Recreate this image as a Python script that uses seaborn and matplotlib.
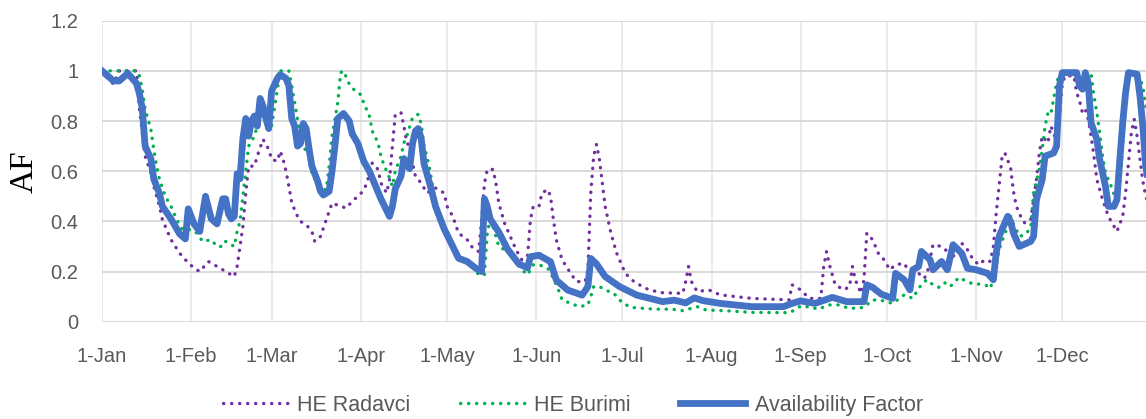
import pandas as pd
import numpy as np
import matplotlib
matplotlib.use("Agg")
import matplotlib.pyplot as plt
import matplotlib.dates as mdates
import seaborn as sns

# day of year (0 = 1-Jan) and values
af_days = [0, 2, 4, 6, 9, 12, 13, 14, 15, 17, 18, 20, 21, 24, 27, 29, 30, 32, 34, 36,
           38, 40, 42, 43, 44, 45, 46, 47, 48, 49, 50, 51, 52, 53, 54, 55, 56, 57, 58, 59,
           61, 62, 64, 65, 66, 67, 68, 69, 70, 71, 72, 73, 75, 76, 77, 79, 80, 81, 82, 84,
           86, 87, 89, 91, 93, 97, 100, 101, 102, 104, 105, 107, 108, 109, 110, 111, 112, 114, 116, 119,
           122, 124, 127, 130, 132, 133, 134, 135, 138, 141, 145, 148, 149, 152, 156, 158, 162, 167, 169, 170,
           172, 175, 180, 186, 195, 199, 203, 206, 209, 215, 226, 237, 240, 243, 248, 254, 259, 265, 266, 268,
           271, 275, 276, 279, 281, 282, 284, 285, 288, 289, 292, 294, 296, 299, 301, 304, 308, 310, 311, 312,
           315, 316, 317, 319, 323, 324, 325, 327, 328, 331, 332, 333, 334, 339, 340, 341, 342, 343, 344, 346,
           347, 349, 350, 352, 353, 354, 355, 356, 357, 360, 361, 362, 363, 364]
af_vals = [1.00, 0.98, 0.96, 0.96, 0.99, 0.95, 0.91, 0.85, 0.70, 0.65, 0.57, 0.51, 0.46, 0.41, 0.35, 0.33, 0.45, 0.39, 0.36, 0.50,
           0.41, 0.39, 0.49, 0.49, 0.43, 0.41, 0.42, 0.59, 0.57, 0.73, 0.81, 0.74, 0.80, 0.82, 0.78, 0.89, 0.86, 0.81, 0.77, 0.92,
           0.97, 0.985, 0.97, 0.94, 0.81, 0.78, 0.70, 0.71, 0.79, 0.77, 0.69, 0.62, 0.56, 0.52, 0.505, 0.52, 0.60, 0.70, 0.81, 0.83,
           0.80, 0.75, 0.71, 0.64, 0.60, 0.49, 0.42, 0.46, 0.53, 0.58, 0.65, 0.61, 0.71, 0.76, 0.77, 0.73, 0.63, 0.55, 0.46, 0.37,
           0.30, 0.253, 0.24, 0.213, 0.20, 0.49, 0.46, 0.41, 0.357, 0.29, 0.23, 0.215, 0.259, 0.265, 0.239, 0.166, 0.126, 0.106, 0.14, 0.252,
           0.23, 0.18, 0.14, 0.106, 0.08, 0.086, 0.075, 0.095, 0.084, 0.073, 0.06, 0.06, 0.073, 0.083, 0.073, 0.097, 0.08, 0.08, 0.147, 0.137,
           0.11, 0.093, 0.193, 0.167, 0.127, 0.207, 0.22, 0.28, 0.247, 0.207, 0.24, 0.207, 0.307, 0.273, 0.213, 0.207, 0.193, 0.167, 0.273, 0.34,
           0.42, 0.40, 0.353, 0.30, 0.32, 0.34, 0.487, 0.567, 0.66, 0.673, 0.70, 0.94, 0.993, 0.993, 0.94, 0.927, 0.993, 0.953, 0.793, 0.727,
           0.647, 0.54, 0.46, 0.46, 0.487, 0.647, 0.793, 0.913, 0.993, 0.987, 0.90, 0.78, 0.62, 0.55]

radavci_days = [0, 2, 4, 6, 12, 13, 15, 17, 18, 20, 21, 24, 27, 29, 32, 34, 37, 39, 43, 46,
                47, 48, 49, 50, 51, 53, 54, 56, 58, 59, 61, 62, 63, 64, 65, 66, 68, 69, 71, 73,
                74, 76, 78, 79, 80, 83, 85, 87, 90, 92, 94, 96, 97, 99, 100, 101, 102, 104, 105, 106,
                107, 108, 109, 111, 113, 116, 119, 120, 122, 124, 127, 129, 131, 132, 133, 134, 136, 137, 138, 140,
                142, 144, 146, 148, 149, 150, 152, 153, 155, 156, 157, 158, 160, 163, 165, 168, 169, 170, 171, 172,
                173, 174, 175, 177, 179, 181, 182, 185, 189, 194, 202, 203, 204, 205, 207, 211, 215, 226, 239, 240,
                243, 246, 250, 251, 252, 253, 255, 258, 260, 261, 262, 264, 265, 266, 268, 270, 272, 274, 276, 279,
                280, 284, 286, 287, 289, 292, 294, 295, 297, 299, 301, 303, 305, 307, 309, 310, 311, 312, 313, 314,
                316, 317, 318, 320, 321, 323, 324, 325, 326, 327, 329, 330, 331, 332, 333, 334, 335, 338, 339, 340,
                341, 342, 343, 344, 345, 346, 348, 350, 352, 353, 355, 356, 357, 358, 359, 360, 361, 362, 363, 364]
radavci_vals = [1.0, 0.97, 0.947, 1.0, 1.0, 0.85, 0.66, 0.593, 0.54, 0.46, 0.407, 0.327, 0.273, 0.247, 0.213, 0.20, 0.24, 0.227, 0.20, 0.18,
                0.22, 0.30, 0.38, 0.513, 0.62, 0.62, 0.66, 0.727, 0.687, 0.647, 0.64, 0.68, 0.647, 0.60, 0.54, 0.473, 0.42, 0.40, 0.387, 0.36,
                0.32, 0.34, 0.407, 0.44, 0.473, 0.46, 0.453, 0.48, 0.51, 0.547, 0.633, 0.607, 0.553, 0.513, 0.567, 0.70, 0.827, 0.833, 0.78, 0.713,
                0.70, 0.633, 0.58, 0.553, 0.513, 0.533, 0.513, 0.46, 0.42, 0.353, 0.327, 0.293, 0.28, 0.40, 0.55, 0.607, 0.607, 0.553, 0.473, 0.393,
                0.34, 0.287, 0.247, 0.26, 0.407, 0.46, 0.46, 0.513, 0.527, 0.50, 0.407, 0.327, 0.247, 0.193, 0.16, 0.16, 0.207, 0.513, 0.66, 0.707,
                0.647, 0.553, 0.46, 0.353, 0.273, 0.22, 0.193, 0.16, 0.133, 0.116, 0.113, 0.16, 0.22, 0.16, 0.12, 0.127, 0.107, 0.093, 0.087, 0.147,
                0.127, 0.093, 0.093, 0.22, 0.28, 0.227, 0.147, 0.127, 0.14, 0.22, 0.167, 0.113, 0.167, 0.353, 0.327, 0.273, 0.247, 0.207, 0.227, 0.233,
                0.213, 0.193, 0.173, 0.193, 0.307, 0.30, 0.28, 0.247, 0.273, 0.313, 0.287, 0.247, 0.227, 0.247, 0.24, 0.30, 0.433, 0.54, 0.653, 0.673,
                0.615, 0.52, 0.46, 0.407, 0.393, 0.407, 0.487, 0.567, 0.673, 0.74, 0.713, 0.78, 0.753, 0.713, 0.82, 0.95, 0.98, 0.98, 0.913, 0.88,
                0.833, 0.847, 0.807, 0.74, 0.66, 0.567, 0.487, 0.42, 0.38, 0.36, 0.42, 0.513, 0.633, 0.753, 0.807, 0.74, 0.65, 0.56, 0.50, 0.47]

burimi_days = [0, 12, 13, 14, 15, 17, 18, 19, 20, 22, 24, 26, 28, 31, 33, 35, 38, 40, 42, 43,
               45, 46, 47, 48, 49, 50, 51, 53, 55, 57, 59, 61, 62, 65, 66, 68, 70, 72, 73, 76,
               78, 79, 80, 82, 83, 84, 86, 88, 90, 91, 93, 94, 96, 97, 98, 100, 101, 102, 104, 105,
               106, 108, 110, 111, 112, 113, 114, 116, 119, 121, 124, 129, 131, 133, 134, 135, 136, 138, 142, 146,
               148, 150, 152, 155, 157, 159, 160, 163, 166, 169, 170, 171, 173, 175, 178, 181, 184, 192, 198, 202,
               207, 210, 218, 226, 239, 241, 243, 247, 249, 253, 256, 260, 265, 268, 271, 275, 279, 282, 284, 286,
               287, 289, 291, 293, 295, 298, 301, 303, 305, 308, 309, 311, 312, 313, 315, 316, 317, 318, 319, 321,
               323, 324, 326, 327, 328, 329, 330, 332, 333, 344, 345, 346, 347, 348, 349, 351, 352, 354, 355, 356,
               357, 360, 362, 363, 364]
burimi_vals = [1.0, 1.0, 0.98, 0.927, 0.847, 0.767, 0.687, 0.62, 0.567, 0.50, 0.46, 0.407, 0.367, 0.367, 0.353, 0.32, 0.327, 0.30, 0.30, 0.32,
               0.307, 0.30, 0.36, 0.40, 0.50, 0.60, 0.70, 0.74, 0.82, 0.793, 0.78, 0.927, 1.0, 1.0, 0.94, 0.807, 0.70, 0.66, 0.593, 0.527,
               0.527, 0.62, 0.74, 0.873, 0.993, 1.0, 0.947, 0.92, 0.905, 0.873, 0.82, 0.76, 0.713, 0.66, 0.627, 0.573, 0.54, 0.60, 0.66, 0.713,
               0.74, 0.813, 0.827, 0.79, 0.70, 0.66, 0.607, 0.473, 0.38, 0.313, 0.253, 0.22, 0.187, 0.187, 0.353, 0.407, 0.38, 0.30, 0.273, 0.207,
               0.187, 0.227, 0.227, 0.213, 0.173, 0.12, 0.087, 0.073, 0.06, 0.067, 0.10, 0.14, 0.14, 0.127, 0.113, 0.075, 0.057, 0.05, 0.05, 0.044,
               0.06, 0.047, 0.043, 0.037, 0.036, 0.047, 0.063, 0.057, 0.05, 0.067, 0.067, 0.053, 0.057, 0.087, 0.085, 0.073, 0.107, 0.093, 0.133, 0.16,
               0.167, 0.147, 0.137, 0.156, 0.14, 0.176, 0.16, 0.15, 0.15, 0.143, 0.133, 0.22, 0.287, 0.32, 0.38, 0.42, 0.39, 0.367, 0.34, 0.347,
               0.373, 0.513, 0.607, 0.687, 0.78, 0.833, 0.827, 0.953, 0.987, 0.99, 0.90, 0.833, 0.753, 0.66, 0.593, 0.54, 0.507, 0.55, 0.70, 0.87,
               0.99, 0.993, 0.94, 0.86, 0.80]

start = pd.Timestamp("2019-01-01")


def to_dates(days):
    return start + pd.to_timedelta(days, unit="D")


fig = plt.figure(figsize=(11.46, 4.19), dpi=100)
ax = fig.add_axes([0.089, 0.2322, 0.911, 0.7184])

dot = (0, (0.1, 2.3))
sns.lineplot(x=to_dates(radavci_days), y=radavci_vals, ax=ax, color="#7030A0",
             linewidth=2.4, linestyle=dot, dash_capstyle="round", label="HE Radavci")
sns.lineplot(x=to_dates(burimi_days), y=burimi_vals, ax=ax, color="#00B050",
             linewidth=2.4, linestyle=dot, dash_capstyle="round", label="HE Burimi")
sns.lineplot(x=to_dates(af_days), y=af_vals, ax=ax, color="#4472C4",
             linewidth=4.9, solid_joinstyle="round", label="Availability Factor")

ax.set_xlim(start, start + pd.Timedelta(days=363.1))
ax.set_ylim(0, 1.2)
ax.set_yticks([0, 0.2, 0.4, 0.6, 0.8, 1.0, 1.2])
ax.set_yticklabels(["0", "0.2", "0.4", "0.6", "0.8", "1", "1.2"])
ax.xaxis.set_major_locator(mdates.MonthLocator())
ax.xaxis.set_major_formatter(mdates.DateFormatter("1-%b"))

ax.grid(axis="y", color="#D9D9D9", linewidth=1.4)
ax.grid(axis="x", color="#EBEBEB", linewidth=1.4)
ax.set_axisbelow(True)
for s in ax.spines.values():
    s.set_visible(False)
ax.tick_params(length=0, labelsize=14.5, labelcolor="#595959")
ax.tick_params(axis="y", pad=17)
ax.tick_params(axis="x", pad=18)
for lab in ax.get_xticklabels() + ax.get_yticklabels():
    lab.set_family("Liberation Sans")

ax.set_xlabel("")
ax.set_ylabel("AF", family="Liberation Serif", fontsize=24, color="black", labelpad=8)

leg = ax.legend(loc="center", bbox_to_anchor=(0.451, -0.277), ncol=3,
                frameon=False, handlelength=3.0, columnspacing=2.3, handletextpad=0.45,
                prop={"family": "Liberation Sans", "size": 15.5})
for t in leg.get_texts():
    t.set_color("#595959")

fig.savefig("out.png", dpi=100)
